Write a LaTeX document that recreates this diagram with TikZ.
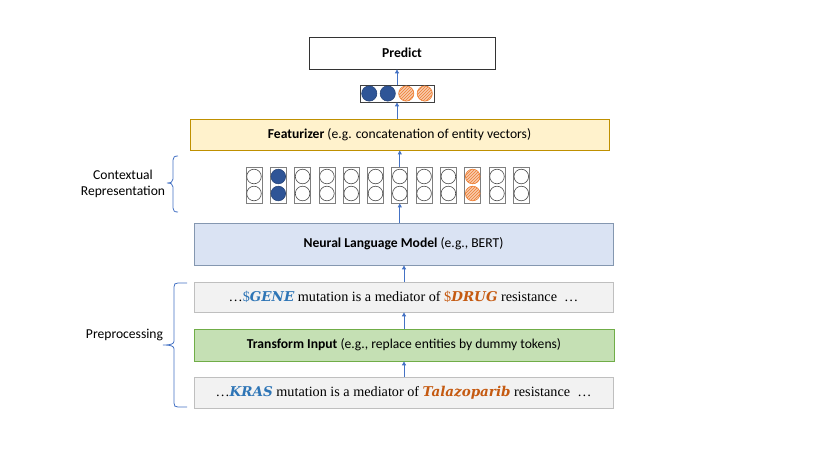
\documentclass[tikz,border=0pt]{standalone}
\usepackage{fontspec}
\setmainfont{Carlito}
\newfontfamily\serifface{Liberation Serif}
\newfontfamily\mathface{DejaVu Serif}
\usetikzlibrary{arrows.meta,patterns}
\definecolor{arrblue}{HTML}{4472C4}
\definecolor{featfill}{HTML}{FFF2CC}
\definecolor{featdraw}{HTML}{BF9000}
\definecolor{nlmfill}{HTML}{DAE3F3}
\definecolor{nlmdraw}{HTML}{8497B0}
\definecolor{grayfill}{HTML}{F2F2F2}
\definecolor{graydraw}{HTML}{BFBFBF}
\definecolor{trfill}{HTML}{C5E0B4}
\definecolor{trdraw}{HTML}{70AD47}
\definecolor{dotblue}{HTML}{2F5597}
\definecolor{dotorange}{HTML}{ED7D31}
\definecolor{dotorangelt}{HTML}{F8CBAD}
\definecolor{txtblue}{HTML}{2E75B6}
\definecolor{txtorange}{HTML}{C55A11}
\definecolor{colgray}{HTML}{7F7F7F}
\newcommand{\mword}[1]{{\mathface\bfseries\itshape\fontsize{13.5}{15}\selectfont #1}}
\tikzset{
  lbl/.style={font=\fontsize{13.6}{16}\selectfont},
  box/.style={draw, line width=0.8pt, inner sep=0pt, lbl},
  arr/.style={draw=arrblue, line width=0.9pt, -{Triangle[length=4pt,width=4pt]}},
  colbox/.style={draw=colgray, line width=0.8pt, minimum width=16pt, minimum height=36pt, inner sep=0pt},
  emptydot/.style={draw=black!70, fill=white, line width=0.6pt},
  bluedot/.style={draw=dotblue!80!black, fill=dotblue, line width=0.6pt},
  orangedot/.style={draw=dotorange, line width=0.6pt, preaction={fill=dotorangelt}, pattern={north east lines}, pattern color=dotorange},
  bracestyle/.style={draw=arrblue, line width=0.8pt},
  sent/.style={font=\serifface\fontsize{14.2}{16}\selectfont}
}
\begin{document}
\begin{tikzpicture}[x=1pt,y=-1pt]
\useasboundingbox (0,0) rectangle (830,467);
% boxes
\node[box, draw=black!80, fill=white, minimum width=186pt, minimum height=32pt] (pred) at (402,53) {\textbf{Predict}};
\node[box, draw=featdraw, fill=featfill, minimum width=419pt, minimum height=31pt] (feat) at (399.5,134.5) {\textbf{Featurizer} (e.g. concatenation of entity vectors)};
\node[box, draw=nlmdraw, fill=nlmfill, minimum width=419pt, minimum height=42pt] (nlm) at (403.5,244) {\textbf{Neural Language Model} (e.g., BERT)};
\node[box, draw=graydraw, fill=grayfill, minimum width=419pt, minimum height=30pt, sent] (gene) at (403.5,297)
  {…{\color{txtblue}\$\mword{GENE}} mutation is a mediator of {\color{txtorange}\$\mword{DRUG}} resistance~~…};
\node[box, draw=trdraw, fill=trfill, minimum width=420pt, minimum height=32pt] (trans) at (404,345) {\textbf{Transform Input} (e.g., replace entities by dummy tokens)};
\node[box, draw=graydraw, fill=grayfill, minimum width=419pt, minimum height=31pt, sent] (kras) at (403.5,392.5)
  {…{\color{txtblue}\mword{KRAS}} mutation is a mediator of {\color{txtorange}\mword{Talazoparib}} resistance~~…};
% top vector
\node[draw=black!75, line width=0.8pt, minimum width=74pt, minimum height=17pt, inner sep=0pt] (vec) at (397,93.5) {};
\foreach \k/\st in {0/bluedot,1/bluedot,2/orangedot,3/orangedot}
  \path[\st] (369.25+\k*18.5,93.5) circle (7.6pt);
% columns
\foreach \i in {1,...,12} {
  \node[colbox] (c\i) at ({254+(\i-1)*24.3},185) {};
}
\foreach \i in {1,...,12} {
  \ifnum\i=2
    \path[bluedot] (c\i.center) ++(0,-8.5) circle (7.3pt);
    \path[bluedot] (c\i.center) ++(0,8.5) circle (7.3pt);
  \else\ifnum\i=10
    \path[orangedot] (c\i.center) ++(0,-8.5) circle (7.3pt);
    \path[orangedot] (c\i.center) ++(0,8.5) circle (7.3pt);
  \else
    \path[emptydot] (c\i.center) ++(0,-8.5) circle (7.3pt);
    \path[emptydot] (c\i.center) ++(0,8.5) circle (7.3pt);
  \fi\fi
}
% arrows
\draw[arr] (vec.north) -- (vec.north |- pred.south);
\draw[arr] (vec.south |- feat.north) -- (vec.south);
\draw[arr] (c7.north) -- (c7.north |- feat.south);
\draw[arr] (c7.south |- nlm.north) -- (c7.south);
\draw[arr] (gene.north -| 404,0) -- (nlm.south -| 404,0);
\draw[arr] (trans.north -| 404,0) -- (gene.south -| 404,0);
\draw[arr] (kras.north -| 404,0) -- (trans.south -| 404,0);
% braces
\draw[bracestyle] (178,156) .. controls (174.5,156) and (173,157) .. (173,160) -- (173,179) .. controls (173,182) and (171,183) .. (167,183) .. controls (171,183) and (173,184) .. (173,187) -- (173,208) .. controls (173,211) and (174.5,212) .. (178,212);
\draw[bracestyle] (187,283) -- (178,283) .. controls (175,283) and (174,284) .. (174,287) -- (174,341) .. controls (174,344) and (171,345) .. (163,345) .. controls (171,345) and (174,346) .. (174,349) -- (174,403) .. controls (174,406) and (175,407) .. (178,407) -- (187,407);
% labels
\node[lbl, align=center] (ctx) at (123,183.5) {Contextual\\Representation};
\node[lbl] (prep) at (124.5,335) {Preprocessing};
\end{tikzpicture}
\end{document}
